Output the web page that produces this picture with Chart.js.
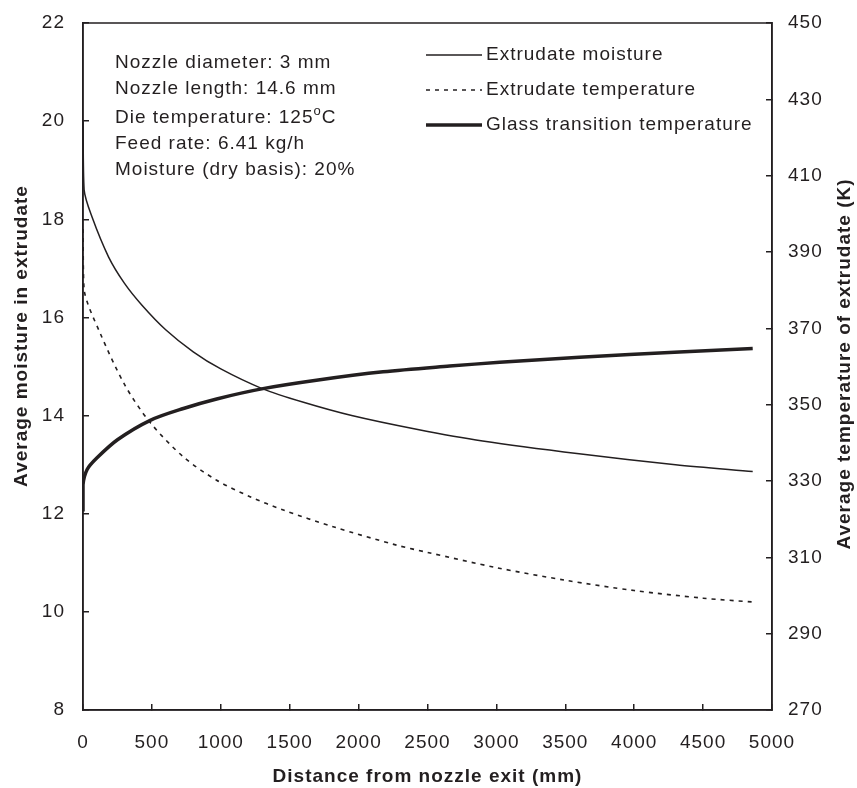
<!DOCTYPE html>
<html>
<head>
<meta charset="utf-8">
<script src="https://cdn.jsdelivr.net/npm/chart.js@4.4.0/dist/chart.umd.min.js"></script>
<style>
  html, body { margin: 0; padding: 0; background: #fff; }
</style>
</head>
<body>
<canvas id="myChart" width="857" height="788"></canvas>
<script>
// distance from nozzle exit (mm) and the values
const distMoisture = [0, 8, 65, 186, 300, 428, 600, 800, 1000, 1300, 1600, 1950, 2420, 2900, 3600, 4300, 4860];
const moisture = [20.0, 18.6, 18.05, 17.23, 16.7, 16.25, 15.75, 15.3, 14.95, 14.55, 14.27, 14.0, 13.72, 13.48, 13.22, 13.0, 12.86];

const distTemp = [0, 8, 125, 306, 488, 729, 970, 1212, 1454, 1816, 2275, 2500, 3000, 3500, 4000, 4500, 4860];
const temperature = [396, 380, 368.7, 355, 345.3, 336.3, 330.2, 325.9, 322.4, 318.0, 313.2, 311.3, 307.3, 304.0, 301.3, 299.3, 298.3];

const distGlass = [0, 0, 30, 100, 250, 488, 729, 970, 1306, 1694, 2178, 2661, 3024, 3604, 4328, 4860];
const glassTemp = [322, 329, 333, 336, 340.8, 345.9, 349.0, 351.5, 354.2, 356.4, 358.6, 360.1, 361.1, 362.4, 363.8, 364.7];

const seriesLabels = ['Extrudate moisture', 'Extrudate temperature', 'Glass transition temperature'];
const notes = ['Nozzle diameter: 3 mm', 'Nozzle length: 14.6 mm', 'Die temperature: 125^oC', 'Feed rate: 6.41 kg/h', 'Moisture (dry basis): 20%'];
const xTitle = 'Distance from nozzle exit (mm)';
const yLeftTitle = 'Average moisture in extrudate';
const yRightTitle = 'Average temperature of extrudate (K)';

const ink = '#231f20';
const fontFamily = '"Liberation Sans", Arial, Helvetica, sans-serif';

const toPoints = (xs, ys) => xs.map((x, i) => ({ x, y: ys[i] }));

// force the axis boxes so the plot frame sits where the original one is
const fitTo = (size) => (scale) => {
  if (scale.isHorizontal()) {
    scale.height = size;
  } else {
    scale.width = size;
    scale.paddingTop = 0;
    scale.paddingBottom = 0;
  }
};

// the superscript line sits a bit lower, like in the original text box
const noteRows = [63, 89, 118, 144, 170];

const overlay = {
  id: 'overlay',
  beforeDraw(chart) {
    chart.ctx.letterSpacing = '1px';
  },
  afterDraw(chart) {
    const { ctx, chartArea: a } = chart;
    ctx.save();
    ctx.letterSpacing = '1px';
    ctx.strokeStyle = ink;
    ctx.lineWidth = 1.5;
    ctx.strokeRect(a.left, a.top, a.right - a.left, a.bottom - a.top);

    ctx.fillStyle = ink;
    ctx.textBaseline = 'middle';
    ctx.textAlign = 'left';
    ctx.font = '19px ' + fontFamily;

    // parameter block
    notes.forEach((t, i) => {
      const y = noteRows[i];
      const parts = t.split('^o');
      let x = 115;
      ctx.fillText(parts[0], x, y);
      if (parts.length > 1) {
        x += ctx.measureText(parts[0]).width;
        ctx.font = '13px ' + fontFamily;
        ctx.fillText('o', x, y - 7);
        x += ctx.measureText('o').width;
        ctx.font = '19px ' + fontFamily;
        ctx.fillText(parts[1], x, y);
      }
    });

    // legend
    chart.data.datasets.forEach((ds, i) => {
      const y = 55 + i * 35;
      ctx.beginPath();
      ctx.lineWidth = ds.borderWidth;
      ctx.setLineDash(ds.borderDash || []);
      ctx.moveTo(426, y);
      ctx.lineTo(482, y);
      ctx.stroke();
      ctx.setLineDash([]);
      ctx.fillText(ds.label, 486, y);
    });

    // axis titles
    ctx.font = 'bold 19px ' + fontFamily;
    ctx.textAlign = 'center';
    ctx.fillText(xTitle, (a.left + a.right) / 2, 777);

    ctx.save();
    ctx.translate(22, 336);
    ctx.rotate(-Math.PI / 2);
    ctx.fillText(yLeftTitle, 0, 0);
    ctx.restore();

    ctx.save();
    ctx.translate(845, 364);
    ctx.rotate(-Math.PI / 2);
    ctx.fillText(yRightTitle, 0, 0);
    ctx.restore();

    ctx.restore();
  }
};

const tickFont = { family: fontFamily, size: 19 };
const axisGrid = { drawOnChartArea: false, drawTicks: true, tickLength: -6, color: ink, lineWidth: 1.5 };
const axisBorder = { display: true, color: ink, width: 1.5 };
const plainNumber = (v) => String(v);

const ctx = document.getElementById('myChart').getContext('2d');

const config = {
  type: 'line',
  data: {
    datasets: [
      {
        label: seriesLabels[0],
        data: toPoints(distMoisture, moisture),
        yAxisID: 'y',
        borderColor: ink,
        borderWidth: 1.5,
        tension: 0.3
      },
      {
        label: seriesLabels[1],
        data: toPoints(distTemp, temperature),
        yAxisID: 'y2',
        borderColor: ink,
        borderWidth: 1.6,
        borderDash: [4, 5],
        tension: 0.3
      },
      {
        label: seriesLabels[2],
        data: toPoints(distGlass, glassTemp),
        yAxisID: 'y2',
        borderColor: ink,
        borderWidth: 3.5,
        tension: 0.3
      }
    ]
  },
  options: {
    responsive: false,
    animation: false,
    layout: { padding: { top: 23, left: 0, right: 0, bottom: 0 } },
    elements: { point: { radius: 0 } },
    plugins: {
      legend: { display: false },
      tooltip: { enabled: false }
    },
    scales: {
      x: {
        type: 'linear',
        min: 0,
        max: 5000,
        ticks: { stepSize: 500, font: tickFont, color: ink, padding: 27, maxRotation: 0, autoSkip: false, callback: plainNumber },
        grid: axisGrid,
        border: axisBorder,
        afterFit: fitTo(78)
      },
      y: {
        position: 'left',
        min: 8,
        max: 22,
        ticks: { stepSize: 2, font: tickFont, color: ink, padding: 24, callback: plainNumber },
        grid: axisGrid,
        border: axisBorder,
        afterFit: fitTo(83)
      },
      y2: {
        position: 'right',
        min: 270,
        max: 450,
        ticks: { stepSize: 20, font: tickFont, color: ink, padding: 22, callback: plainNumber },
        grid: axisGrid,
        border: axisBorder,
        afterFit: fitTo(85)
      }
    }
  },
  plugins: [overlay]
};

const myChart = new Chart(ctx, config);
</script>
</body>
</html>
